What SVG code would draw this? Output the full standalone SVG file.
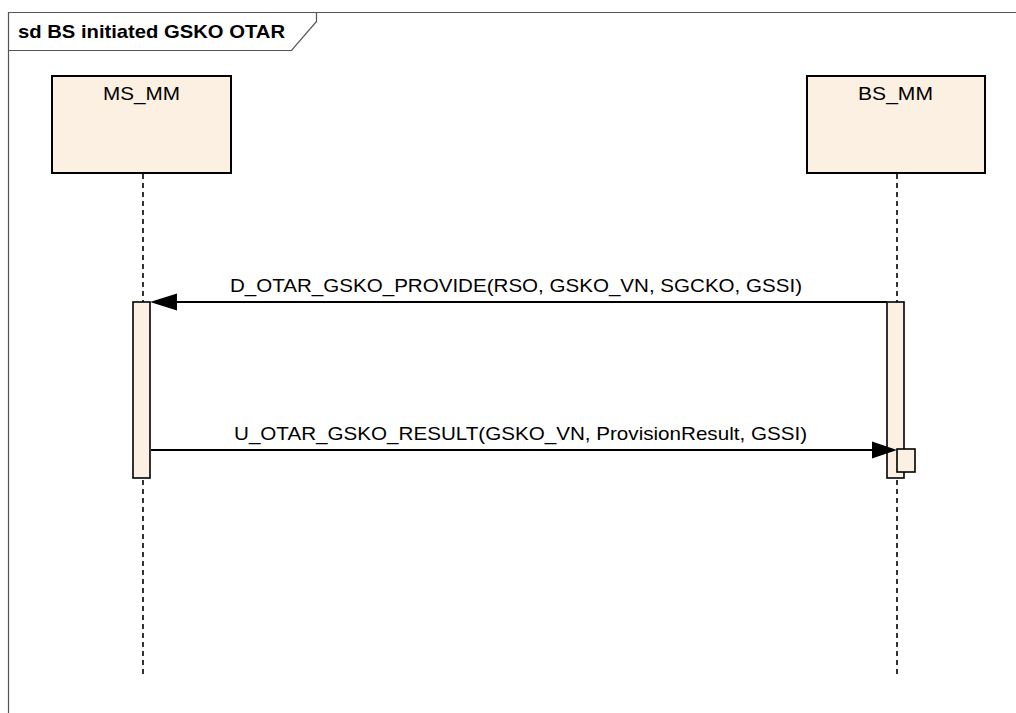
<svg xmlns="http://www.w3.org/2000/svg" width="1016" height="713" viewBox="0 0 1016 713">
<defs>
<style>
.frame{fill:none;stroke:#555;stroke-width:1.2}
.box{fill:#FBF0E1;stroke:#000;stroke-width:2}
.act{fill:#FBF0E1;stroke:#000;stroke-width:1.6}
.life{stroke:#000;stroke-width:1.6;stroke-dasharray:5 4;fill:none}
.msg{stroke:#000;stroke-width:2;fill:none}
.head{fill:#000}
.lbl{font-family:"Liberation Sans",Arial,sans-serif;font-size:19px;fill:#000}
.title{font-family:"Liberation Sans",Arial,sans-serif;font-size:18.6px;font-weight:bold;fill:#000}
</style>
</defs>
<rect width="1016" height="713" fill="#fff"/>
<g id="frame">
<path class="frame" d="M8.5,713 V12.5 H1016"/>
<path class="frame" d="M8.5,50.5 H291.5 L316.5,21.5 V12.5"/>
<text class="title" x="18" y="38" textLength="267" lengthAdjust="spacingAndGlyphs">sd BS initiated GSKO OTAR</text>
</g>
<g id="connectors">
<line class="life" x1="143" y1="174" x2="143" y2="676"/>
<line class="life" x1="897" y1="174" x2="897" y2="676"/>
</g>
<g id="MS_MM">
<rect class="box" x="52" y="76" width="179" height="97"/>
<text class="lbl" x="141.5" y="100" text-anchor="middle" textLength="77" lengthAdjust="spacingAndGlyphs">MS_MM</text>
<rect class="act" x="133" y="302" width="17" height="176"/>
</g>
<g id="BS_MM">
<rect class="box" x="807" y="76" width="178" height="97"/>
<text class="lbl" x="895.5" y="100" text-anchor="middle" textLength="75" lengthAdjust="spacingAndGlyphs">BS_MM</text>
<rect class="act" x="887" y="302" width="17" height="176"/>
</g>
<g id="messages">
<line class="msg" x1="176" y1="302" x2="887" y2="302"/>
<polygon class="head" points="150,302 177,293.5 177,310.5"/>
<text class="lbl" x="230" y="292" textLength="572" lengthAdjust="spacingAndGlyphs">D_OTAR_GSKO_PROVIDE(RSO, GSKO_VN, SGCKO, GSSI)</text>
<line class="msg" x1="151" y1="450" x2="874" y2="450"/>
<polygon class="head" points="897,450 872,441.5 872,458.5"/>
<rect class="act" x="897" y="449" width="18" height="23"/>
<text class="lbl" x="234" y="440" textLength="573" lengthAdjust="spacingAndGlyphs">U_OTAR_GSKO_RESULT(GSKO_VN, ProvisionResult, GSSI)</text>
</g>
</svg>
